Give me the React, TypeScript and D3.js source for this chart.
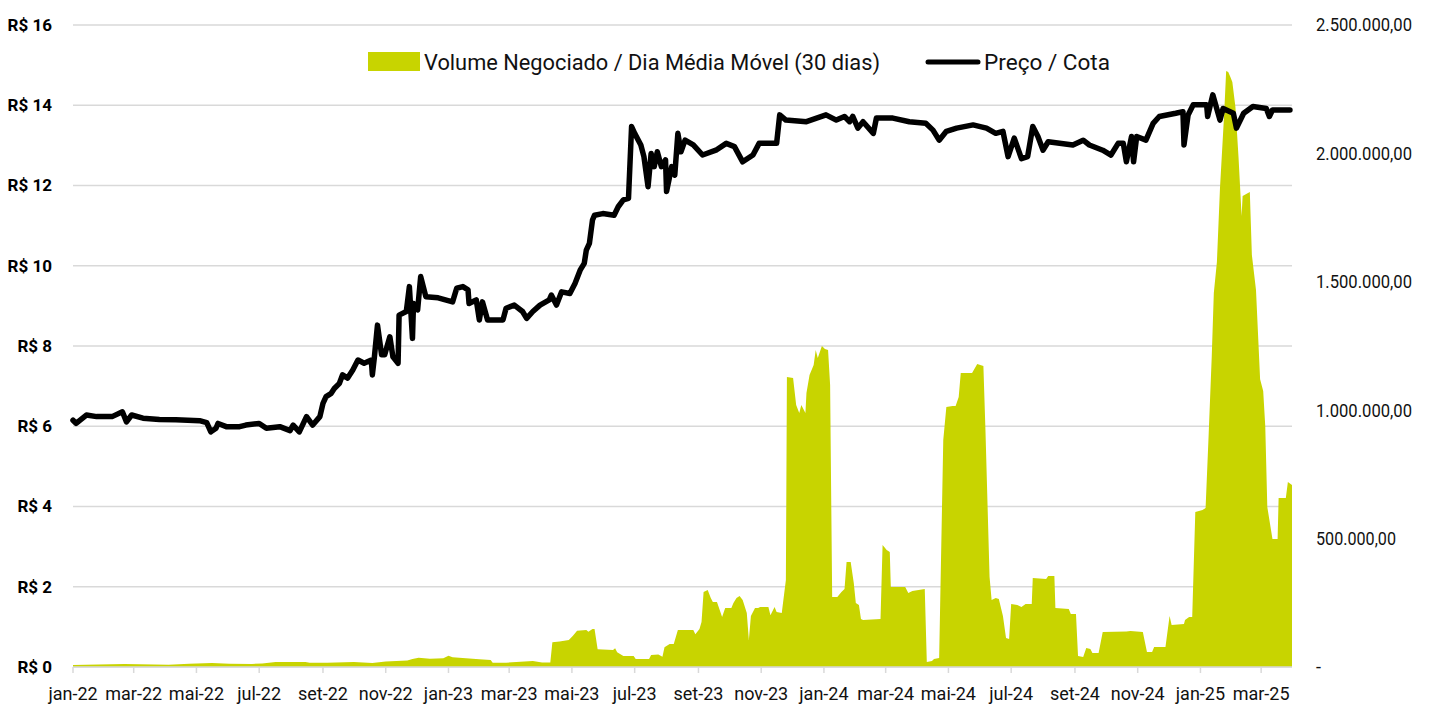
import React from 'react';
import * as d3 from 'd3';

// eixo x: rótulos a cada 2 meses
const monthNames = ['jan', 'fev', 'mar', 'abr', 'mai', 'jun', 'jul', 'ago', 'set', 'out', 'nov', 'dez'];
const priceTicks = [0, 2, 4, 6, 8, 10, 12, 14, 16];
const volumeTicks = [0, 500, 1000, 1500, 2000, 2500]; // R$ mil

const legendVolume = 'Volume Negociado / Dia Média Móvel (30 dias)';
const legendPrice = 'Preço / Cota';

// Preço / Cota (R$)
const priceSeries: [string, number][] = [
  ['2022-01-01', 6.15], ['2022-01-04', 6.07], ['2022-01-14', 6.28], ['2022-01-24', 6.24],
  ['2022-02-08', 6.24], ['2022-02-18', 6.36], ['2022-02-22', 6.11], ['2022-02-27', 6.28],
  ['2022-03-10', 6.2], ['2022-03-26', 6.17], ['2022-04-11', 6.16], ['2022-05-04', 6.14],
  ['2022-05-11', 6.09], ['2022-05-15', 5.86], ['2022-05-20', 5.95], ['2022-05-22', 6.07],
  ['2022-05-30', 5.99], ['2022-06-12', 5.99], ['2022-06-18', 6.03], ['2022-07-01', 6.07],
  ['2022-07-08', 5.95], ['2022-07-21', 5.99], ['2022-07-31', 5.89], ['2022-08-03', 6.03],
  ['2022-08-09', 5.86], ['2022-08-16', 6.24], ['2022-08-22', 6.03], ['2022-08-29', 6.24],
  ['2022-09-01', 6.57], ['2022-09-04', 6.74], ['2022-09-09', 6.82], ['2022-09-12', 6.94],
  ['2022-09-17', 7.07], ['2022-09-20', 7.28], ['2022-09-25', 7.2], ['2022-09-30', 7.4],
  ['2022-10-05', 7.65], ['2022-10-11', 7.57], ['2022-10-18', 7.65], ['2022-10-19', 7.28],
  ['2022-10-21', 7.73], ['2022-10-24', 8.52], ['2022-10-28', 7.78], ['2022-10-31', 7.78],
  ['2022-11-05', 8.23], ['2022-11-08', 7.73], ['2022-11-13', 7.57], ['2022-11-14', 8.77],
  ['2022-11-21', 8.86], ['2022-11-24', 9.48], ['2022-11-27', 8.19], ['2022-11-28', 9.06],
  ['2022-12-02', 8.9], ['2022-12-05', 9.73], ['2022-12-10', 9.23], ['2022-12-22', 9.2],
  ['2023-01-05', 9.1], ['2023-01-09', 9.44], ['2023-01-15', 9.48], ['2023-01-20', 9.4],
  ['2023-01-21', 9.06], ['2023-01-28', 9.15], ['2023-01-31', 8.65], ['2023-02-03', 9.1],
  ['2023-02-08', 8.65], ['2023-02-23', 8.65], ['2023-02-26', 8.94], ['2023-03-06', 9.02],
  ['2023-03-14', 8.86], ['2023-03-18', 8.69], ['2023-03-24', 8.86], ['2023-03-31', 9.02],
  ['2023-04-09', 9.15], ['2023-04-11', 9.27], ['2023-04-16', 9.02], ['2023-04-21', 9.35],
  ['2023-04-29', 9.31], ['2023-05-04', 9.56], ['2023-05-09', 9.89], ['2023-05-13', 10.06],
  ['2023-05-15', 10.39], ['2023-05-18', 10.56], ['2023-05-21', 11.14], ['2023-05-23', 11.26],
  ['2023-05-31', 11.3], ['2023-06-11', 11.26], ['2023-06-15', 11.47], ['2023-06-20', 11.64],
  ['2023-06-25', 11.68], ['2023-06-28', 13.47], ['2023-07-01', 13.3], ['2023-07-07', 13.01],
  ['2023-07-10', 12.72], ['2023-07-14', 11.97], ['2023-07-17', 12.8], ['2023-07-20', 12.47],
  ['2023-07-23', 12.84], ['2023-07-27', 12.47], ['2023-07-31', 12.64], ['2023-08-01', 11.85],
  ['2023-08-06', 12.47], ['2023-08-09', 12.26], ['2023-08-12', 13.3], ['2023-08-15', 12.84],
  ['2023-08-19', 13.13], ['2023-08-27', 13.01], ['2023-09-05', 12.76], ['2023-09-18', 12.88],
  ['2023-09-28', 13.05], ['2023-10-06', 12.97], ['2023-10-14', 12.59], ['2023-10-24', 12.76],
  ['2023-10-30', 13.05], ['2023-11-16', 13.05], ['2023-11-19', 13.76], ['2023-11-25', 13.63],
  ['2023-12-15', 13.59], ['2024-01-03', 13.76], ['2024-01-13', 13.63], ['2024-01-21', 13.72],
  ['2024-01-26', 13.59], ['2024-01-29', 13.72], ['2024-02-03', 13.43], ['2024-02-08', 13.59],
  ['2024-02-18', 13.3], ['2024-02-21', 13.68], ['2024-03-08', 13.68], ['2024-03-24', 13.59],
  ['2024-04-09', 13.55], ['2024-04-16', 13.38], ['2024-04-22', 13.13], ['2024-04-29', 13.35],
  ['2024-05-09', 13.43], ['2024-05-25', 13.51], ['2024-06-07', 13.43], ['2024-06-16', 13.3],
  ['2024-06-23', 13.35], ['2024-06-28', 12.72], ['2024-07-04', 13.18], ['2024-07-11', 12.67],
  ['2024-07-17', 12.72], ['2024-07-22', 13.47], ['2024-07-27', 13.22], ['2024-08-01', 12.88],
  ['2024-08-06', 13.09], ['2024-08-30', 13.01], ['2024-09-09', 13.13], ['2024-09-15', 13.01],
  ['2024-09-28', 12.88], ['2024-10-06', 12.76], ['2024-10-13', 13.05], ['2024-10-18', 13.05],
  ['2024-10-21', 12.59], ['2024-10-26', 13.22], ['2024-10-28', 12.59], ['2024-10-31', 13.22],
  ['2024-11-09', 13.13], ['2024-11-16', 13.55], ['2024-11-22', 13.72], ['2024-12-08', 13.8],
  ['2024-12-15', 13.84], ['2024-12-16', 13.01], ['2024-12-20', 13.76], ['2024-12-25', 14.01],
  ['2025-01-07', 14.01], ['2025-01-08', 13.72], ['2025-01-13', 14.26], ['2025-01-20', 13.63],
  ['2025-01-23', 13.92], ['2025-02-02', 13.8], ['2025-02-05', 13.43], ['2025-02-12', 13.8],
  ['2025-02-21', 13.97], ['2025-03-06', 13.92], ['2025-03-09', 13.72], ['2025-03-12', 13.88],
  ['2025-03-29', 13.88],
];

// Volume negociado / dia, média móvel 30 dias (R$ mil)
const volumeSeries: [string, number][] = [
  ['2022-01-01', 8], ['2022-02-20', 12], ['2022-04-04', 9], ['2022-04-24', 13],
  ['2022-05-16', 16], ['2022-06-02', 13], ['2022-06-24', 12], ['2022-07-04', 14],
  ['2022-07-17', 19], ['2022-08-15', 19], ['2022-08-19', 17], ['2022-09-05', 17],
  ['2022-10-01', 19], ['2022-10-19', 16], ['2022-11-01', 21], ['2022-11-22', 25],
  ['2022-11-27', 31], ['2022-12-03', 36], ['2022-12-14', 32], ['2022-12-27', 34],
  ['2023-01-01', 44], ['2023-01-05', 38], ['2023-01-18', 34], ['2023-01-31', 30],
  ['2023-02-11', 27], ['2023-02-13', 17], ['2023-02-26', 17], ['2023-03-16', 21],
  ['2023-03-24', 23], ['2023-04-02', 18], ['2023-04-10', 18], ['2023-04-12', 96],
  ['2023-04-19', 99], ['2023-04-28', 105], ['2023-05-02', 122], ['2023-05-06', 141],
  ['2023-05-15', 144], ['2023-05-17', 137], ['2023-05-21', 148], ['2023-05-23', 148],
  ['2023-05-26', 69], ['2023-06-10', 66], ['2023-06-12', 73], ['2023-06-14', 57],
  ['2023-06-20', 43], ['2023-06-30', 43], ['2023-07-02', 31], ['2023-07-15', 31],
  ['2023-07-17', 47], ['2023-07-24', 49], ['2023-07-28', 40], ['2023-07-30', 77],
  ['2023-08-04', 90], ['2023-08-08', 90], ['2023-08-12', 144], ['2023-08-27', 144],
  ['2023-08-29', 128], ['2023-09-02', 148], ['2023-09-04', 175], ['2023-09-06', 292],
  ['2023-09-10', 300], ['2023-09-13', 269], ['2023-09-15', 253], ['2023-09-19', 253],
  ['2023-09-24', 195], ['2023-09-27', 230], ['2023-10-03', 230], ['2023-10-05', 249],
  ['2023-10-08', 269], ['2023-10-11', 276], ['2023-10-14', 261], ['2023-10-18', 210],
  ['2023-10-20', 105], ['2023-10-22', 199], ['2023-10-26', 230], ['2023-10-29', 230],
  ['2023-10-31', 234], ['2023-11-08', 234], ['2023-11-10', 202], ['2023-11-14', 234],
  ['2023-11-16', 214], ['2023-11-21', 210], ['2023-11-25', 339], ['2023-11-26', 1129],
  ['2023-12-02', 1125], ['2023-12-05', 1020], ['2023-12-08', 989], ['2023-12-10', 1020],
  ['2023-12-14', 989], ['2023-12-15', 1067], ['2023-12-18', 1137], ['2023-12-22', 1176],
  ['2023-12-24', 1234], ['2023-12-26', 1203], ['2023-12-30', 1250], ['2024-01-02', 1238],
  ['2024-01-05', 1234], ['2024-01-07', 1098], ['2024-01-09', 273], ['2024-01-14', 273],
  ['2024-01-18', 292], ['2024-01-21', 304], ['2024-01-23', 409], ['2024-01-27', 409],
  ['2024-01-30', 327], ['2024-02-01', 249], ['2024-02-04', 241], ['2024-02-06', 187],
  ['2024-02-08', 183], ['2024-02-25', 187], ['2024-02-27', 475], ['2024-03-02', 456],
  ['2024-03-05', 448], ['2024-03-06', 312], ['2024-03-20', 312], ['2024-03-23', 288],
  ['2024-03-27', 296], ['2024-04-08', 304], ['2024-04-10', 19], ['2024-04-15', 23],
  ['2024-04-17', 31], ['2024-04-22', 35], ['2024-04-26', 884], ['2024-04-29', 1012],
  ['2024-05-05', 1016], ['2024-05-08', 1016], ['2024-05-11', 1051], ['2024-05-13', 1145],
  ['2024-05-24', 1145], ['2024-05-29', 1180], ['2024-06-04', 1172], ['2024-06-06', 923],
  ['2024-06-10', 350], ['2024-06-12', 261], ['2024-06-16', 269], ['2024-06-19', 265],
  ['2024-06-23', 199], ['2024-06-26', 113], ['2024-06-29', 109], ['2024-07-01', 245],
  ['2024-07-07', 241], ['2024-07-11', 234], ['2024-07-15', 245], ['2024-07-21', 245],
  ['2024-07-22', 347], ['2024-08-04', 343], ['2024-08-06', 354], ['2024-08-12', 354],
  ['2024-08-13', 230], ['2024-08-26', 226], ['2024-08-28', 206], ['2024-09-02', 206],
  ['2024-09-04', 43], ['2024-09-09', 39], ['2024-09-12', 74], ['2024-09-16', 70],
  ['2024-09-18', 55], ['2024-09-24', 55], ['2024-09-28', 136], ['2024-10-21', 138],
  ['2024-10-25', 140], ['2024-11-06', 136], ['2024-11-10', 58], ['2024-11-15', 58],
  ['2024-11-17', 78], ['2024-11-28', 78], ['2024-12-02', 199], ['2024-12-04', 164],
  ['2024-12-16', 167], ['2024-12-17', 183], ['2024-12-21', 195], ['2024-12-24', 195],
  ['2024-12-27', 604], ['2025-01-03', 611], ['2025-01-06', 619], ['2025-01-09', 907],
  ['2025-01-12', 1211], ['2025-01-14', 1456], ['2025-01-17', 1577], ['2025-01-20', 1865],
  ['2025-01-24', 2150], ['2025-01-26', 2321], ['2025-01-28', 2317], ['2025-01-30', 2298],
  ['2025-02-01', 2278], ['2025-02-04', 2181], ['2025-02-07', 1986], ['2025-02-10', 1756],
  ['2025-02-11', 1834], ['2025-02-18', 1850], ['2025-02-20', 1604], ['2025-02-24', 1468],
  ['2025-02-28', 1121], ['2025-03-03', 1075], ['2025-03-05', 938], ['2025-03-07', 623],
  ['2025-03-12', 498], ['2025-03-17', 498], ['2025-03-18', 658], ['2025-03-25', 658],
  ['2025-03-27', 720], ['2025-03-31', 709],
];

const WIDTH = 1431;
const HEIGHT = 706;
const plot = { left: 73, right: 1292, top: 25, bottom: 667 };

const GREEN = '#c8d400';
const GRID = '#d9d9d9';
const FONT = 'Roboto, "Noto Sans", sans-serif';

const parseDate = d3.timeParse('%Y-%m-%d');

const brLocale = d3.formatLocale({
  decimal: ',',
  thousands: '.',
  grouping: [3],
  currency: ['R$ ', ''],
});
const fmtVolume = brLocale.format(',.2f');

export default function App() {
  const x = d3
    .scaleTime()
    .domain([parseDate('2022-01-01') as Date, parseDate('2025-03-31') as Date])
    .range([plot.left, plot.right]);

  const yPrice = d3.scaleLinear().domain([0, 16]).range([plot.bottom, plot.top]);
  const yVolume = d3.scaleLinear().domain([0, 2500]).range([plot.bottom, plot.top]);

  const areaFn = d3
    .area<[string, number]>()
    .x((d) => x(parseDate(d[0]) as Date))
    .y0(yVolume(0))
    .y1((d) => yVolume(d[1]));

  const lineFn = d3
    .line<[string, number]>()
    .x((d) => x(parseDate(d[0]) as Date))
    .y((d) => yPrice(d[1]));

  const xTicks = x.ticks(d3.timeMonth.every(2) as d3.TimeInterval);
  const xLabel = (d: Date) => monthNames[d.getMonth()] + '-' + String(d.getFullYear()).slice(2);

  return (
    <div style={{ position: 'absolute', left: 0, top: 0 }}>
      <svg width={WIDTH} height={HEIGHT} style={{ display: 'block', background: '#fff' }}>
        {/* grade */}
        {priceTicks.map((t) => (
          <line
            key={'g' + t}
            x1={plot.left}
            x2={plot.right}
            y1={yPrice(t)}
            y2={yPrice(t)}
            stroke={GRID}
            strokeWidth={1.5}
          />
        ))}

        {/* volume */}
        <path d={areaFn(volumeSeries) || ''} fill={GREEN} />

        {/* eixo x */}
        <line x1={plot.left} x2={plot.right} y1={plot.bottom} y2={plot.bottom} stroke={GRID} strokeWidth={1.5} />
        {xTicks.map((t, i) => (
          <g key={'x' + i}>
            <line x1={x(t)} x2={x(t)} y1={plot.bottom} y2={plot.bottom + 6} stroke={GRID} strokeWidth={1.5} />
            <text
              x={x(t)}
              y={700}
              textAnchor="middle"
              fontFamily={FONT}
              fontSize={18}
              fill="#111"
            >
              {xLabel(t)}
            </text>
          </g>
        ))}

        {/* preço */}
        <path
          d={lineFn(priceSeries) || ''}
          fill="none"
          stroke="#000"
          strokeWidth={5.5}
          strokeLinejoin="round"
          strokeLinecap="round"
        />

        {/* eixo esquerdo */}
        {priceTicks.map((t) => (
          <text
            key={'l' + t}
            x={52}
            y={yPrice(t)}
            dy="0.35em"
            textAnchor="end"
            fontFamily={FONT}
            fontWeight={700}
            fontSize={17}
            fill="#000"
          >
            {'R$ ' + t}
          </text>
        ))}

        {/* eixo direito */}
        {volumeTicks.map((t) => {
          const label = t === 0 ? '-' : fmtVolume(t * 1000);
          return (
            <text
              key={'r' + t}
              x={1316}
              y={yVolume(t)}
              dy="0.35em"
              fontFamily={FONT}
              fontSize={18}
              fill="#111"
              textLength={t === 0 ? undefined : label.length * 8}
              lengthAdjust="spacingAndGlyphs"
            >
              {label}
            </text>
          );
        })}

        {/* legenda */}
        <rect x={368} y={52} width={52} height={19} fill={GREEN} />
        <text
          x={424}
          y={70}
          fontFamily={FONT}
          fontSize={22}
          fill="#111"
          textLength={456}
          lengthAdjust="spacingAndGlyphs"
        >
          {legendVolume}
        </text>
        <line x1={928} x2={978} y1={62} y2={62} stroke="#000" strokeWidth={5} strokeLinecap="round" />
        <text
          x={984}
          y={70}
          fontFamily={FONT}
          fontSize={22}
          fill="#111"
          textLength={126}
          lengthAdjust="spacingAndGlyphs"
        >
          {legendPrice}
        </text>
      </svg>
    </div>
  );
}
